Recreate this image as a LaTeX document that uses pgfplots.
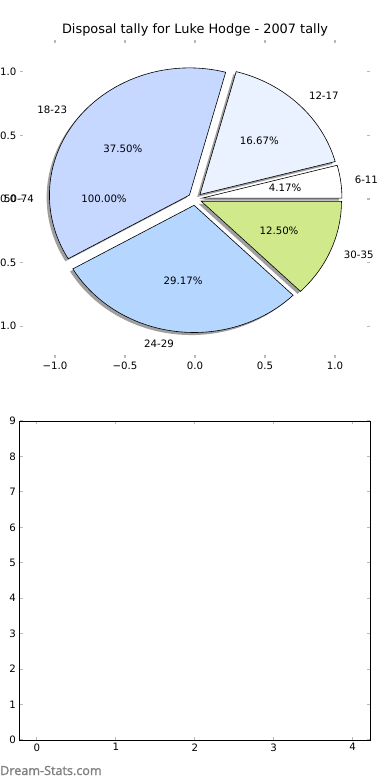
\documentclass[border=0pt]{standalone}
\usepackage{fontspec}
\setmainfont{DejaVu Sans}
\newfontfamily\wmfont[FakeBold=1.6]{Open Sans}
\usepackage{pgfplots}
\pgfplotsset{compat=1.18}
\definecolor{cSix}{RGB}{255,255,255}
\definecolor{cTwelve}{RGB}{235,242,255}
\definecolor{cEighteen}{RGB}{198,216,255}
\definecolor{cTwentyFour}{RGB}{181,215,255}
\definecolor{cThirty}{RGB}{208,234,139}
\definecolor{tickgray}{RGB}{185,185,185}
% Tally: 6-11: 1, 12-17: 4, 18-23: 9, 24-29: 7, 30-35: 3 (of 24) -> angles 0,15,75,210,315,360
\newcommand{\xr}{140pt}
\newcommand{\yr}{127.2pt}
\begin{document}
\begin{tikzpicture}[x=1pt,y=1pt]
\begin{axis}[
  at={(20pt,422pt)}, anchor=south west,
  scale only axis, width=350pt, height=318pt,
  xmin=-1.25, xmax=1.25, ymin=-1.25, ymax=1.25,
  axis line style={draw=none},
  xtick={-1,-0.5,0,0.5,1}, xticklabels={−1.0,−0.5,0.0,0.5,1.0},
  ytick={-1,-0.5,0,0.5,1}, yticklabels={−1.0,−0.5,0.0,0.5,1.0},
  tick style={color=tickgray, line width=1.2pt},
  major tick length=3pt,
  tick label style={font=\fontsize{10.2}{12}\selectfont},
  clip=false,
]
% shadows
\fill[black!75, opacity=0.5] (axis cs:0.02957,-0.01347) -- (axis cs:1.02957,-0.01347) arc[start angle=0, end angle=15, x radius=\xr, y radius=\yr] -- cycle;
\fill[black!75, opacity=0.5] (axis cs:0.01536,0.01536) -- (axis cs:0.98129,0.27418) arc[start angle=15, end angle=75, x radius=\xr, y radius=\yr] -- cycle;
\fill[black!75, opacity=0.5] (axis cs:-0.05967,0.01044) -- (axis cs:0.19915,0.97637) arc[start angle=75, end angle=210, x radius=\xr, y radius=\yr] -- cycle;
\fill[black!75, opacity=0.5] (axis cs:-0.02653,-0.06957) -- (axis cs:-0.89256,-0.56957) arc[start angle=210, end angle=315, x radius=\xr, y radius=\yr] -- cycle;
\fill[black!75, opacity=0.5] (axis cs:0.02619,-0.03913) -- (axis cs:0.73330,-0.74624) arc[start angle=315, end angle=360, x radius=\xr, y radius=\yr] -- cycle;
% wedges
\filldraw[fill=cSix, draw=black, line width=0.6pt] (axis cs:0.04957,0.00653) -- (axis cs:1.04957,0.00653) arc[start angle=0, end angle=15, x radius=\xr, y radius=\yr] -- cycle;
\filldraw[fill=cTwelve, draw=black, line width=0.6pt] (axis cs:0.03536,0.03536) -- (axis cs:1.00129,0.29418) arc[start angle=15, end angle=75, x radius=\xr, y radius=\yr] -- cycle;
\filldraw[fill=cEighteen, draw=black, line width=0.6pt] (axis cs:-0.03967,0.03044) -- (axis cs:0.21915,0.99637) arc[start angle=75, end angle=210, x radius=\xr, y radius=\yr] -- cycle;
\filldraw[fill=cTwentyFour, draw=black, line width=0.6pt] (axis cs:-0.00653,-0.04957) -- (axis cs:-0.87256,-0.54957) arc[start angle=210, end angle=315, x radius=\xr, y radius=\yr] -- cycle;
\filldraw[fill=cThirty, draw=black, line width=0.6pt] (axis cs:0.04619,-0.01913) -- (axis cs:0.75330,-0.72624) arc[start angle=315, end angle=360, x radius=\xr, y radius=\yr] -- cycle;
% labels
\begin{scope}[every node/.style={inner sep=0pt, font=\fontsize{10.2}{12}\selectfont}]
\node[anchor=west] at (axis cs:1.140,0.150) {6-11};
\node[anchor=west] at (axis cs:0.813,0.813) {12-17};
\node[anchor=east] at (axis cs:-0.912,0.700) {18-23};
\node[anchor=east] at (axis cs:-0.150,-1.140) {24-29};
\node[anchor=west] at (axis cs:1.062,-0.440) {30-35};
\node[anchor=east] at (axis cs:-1.150,0) {50-74};
\node at (axis cs:0.644,0.085) {4.17\%};
\node at (axis cs:0.460,0.460) {16.67\%};
\node at (axis cs:-0.516,0.396) {37.50\%};
\node at (axis cs:-0.085,-0.644) {29.17\%};
\node at (axis cs:0.600,-0.249) {12.50\%};
\node at (axis cs:-0.650,0) {100.00\%};
\end{scope}
\end{axis}
\node[anchor=base, font=\fontsize{12.9}{15}\selectfont] at (195pt,746pt) {Disposal tally for Luke Hodge - 2007 tally};
\begin{axis}[
  at={(19.5pt,40pt)}, anchor=south west,
  scale only axis, width=350.5pt, height=319pt,
  xmin=-0.22, xmax=4.22, ymin=0, ymax=9,
  xtick={0,1,2,3,4}, ytick={0,1,2,3,4,5,6,7,8,9},
  axis line style={black, line width=0.8pt},
  tick style={color=tickgray, line width=1.2pt},
  major tick length=3pt,
  tick label style={font=\fontsize{10.2}{12}\selectfont},
  /pgf/number format/assume math mode=true,
]
\addplot[draw=none] coordinates {(0,0)};
\end{axis}
\node[anchor=base west, inner sep=0pt, text=black!50, font=\wmfont\fontsize{12.6}{14}\selectfont] at (0pt,5pt) {Dream-Stats.com};
\pgfresetboundingbox
\path[use as bounding box] (0pt,0pt) rectangle (390pt,780pt);
\end{tikzpicture}
\end{document}
